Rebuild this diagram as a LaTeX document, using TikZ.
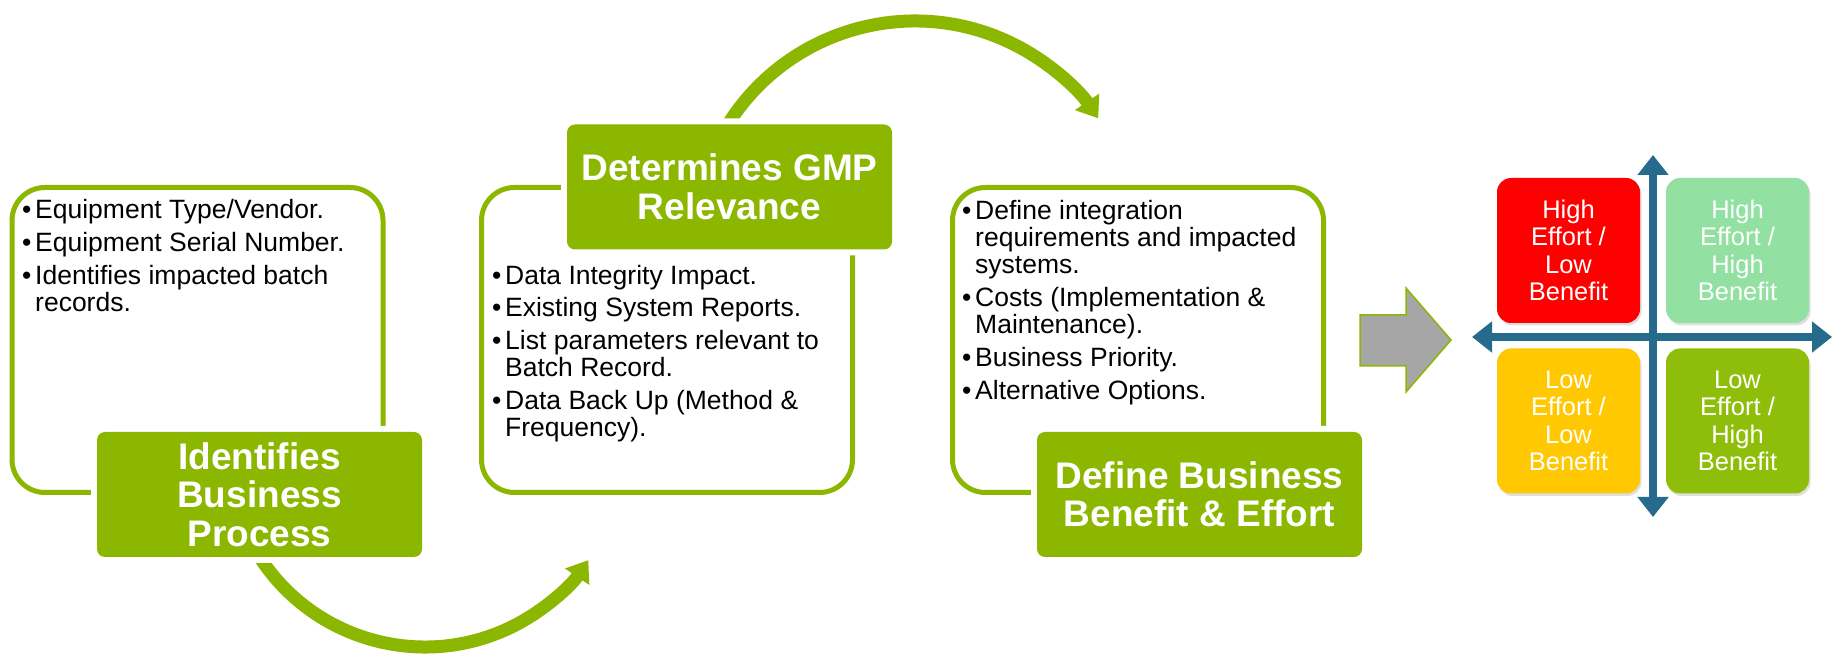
\documentclass[tikz,border=0pt]{standalone}
\usepackage{fontspec}
\setmainfont{Liberation Sans}
\usetikzlibrary{arrows.meta,shadows}
\definecolor{gmpgreen}{RGB}{140,183,0}
\definecolor{axisblue}{RGB}{38,106,140}
\definecolor{arrowgray}{RGB}{166,166,166}
\definecolor{qred}{RGB}{255,0,0}
\definecolor{qlight}{RGB}{146,224,162}
\definecolor{qyellow}{RGB}{255,200,0}
\definecolor{qgreen}{RGB}{143,190,10}
\begin{document}
\begin{tikzpicture}[x=1pt,y=1pt,
  outlinebox/.style={draw=gmpgreen, line width=5pt, rounded corners=33pt,
    minimum width=371pt, minimum height=305pt, inner sep=0pt},
  lblbox/.style={fill=gmpgreen, rounded corners=8pt,
    preaction={draw=white, line width=12pt},
    minimum width=325pt, minimum height=125pt, inner sep=0pt,
    text=white, align=center, font=\fontsize{37}{38.5}\selectfont\bfseries},
  bodytext/.style={anchor=base west, inner sep=0pt, font=\fontsize{26.5}{27}\selectfont},
  arcarrow/.style={draw=gmpgreen, line width=13pt, -{Triangle[width=28pt,length=20pt]}},
  quad/.style={rounded corners=14pt, minimum width=143pt, minimum height=145pt,
    inner sep=0pt, text=white, align=center,
    font=\fontsize{25.5}{27.3}\selectfont,
    drop shadow={opacity=0.25, shadow xshift=1.5pt, shadow yshift=-2.5pt}},
  axisarrow/.style={draw=axisblue, line width=8pt,
    {Triangle[width=30pt,length=20pt]}-{Triangle[width=30pt,length=20pt]}}
]
\newcommand{\bul}{\makebox[13pt][l]{•}}
\useasboundingbox (0,0) rectangle (1833,658);
\fill[white] (0,0) rectangle (1833,658);

% outline boxes
\node[outlinebox] (b1) at (197.5,318) {};
\node[outlinebox] (b2) at (667,318) {};
\node[outlinebox] (b3) at (1138,318) {};

% curved arrows
\coordinate (a1) at ([shift={(150:221)}]915,416);
\draw[arcarrow] (a1) arc[start angle=150, end angle=34, radius=221];
\coordinate (a2) at ([shift={(210:197)}]425,208);
\draw[arcarrow] (a2) arc[start angle=210, end angle=326, radius=197];

% label boxes
\node[lblbox] (l1) at (259.5,163.5) {Identifies\\Business\\Process};
\node[lblbox] (l2) at (729.5,471) {Determines GMP\\Relevance};
\node[lblbox] (l3) at (1199.5,163.5) {Define Business\\Benefit \& Effort};

% box 1 text
\node[bodytext] (t11) at (22,439) {\bul Equipment Type/Vendor.};
\node[bodytext] (t12) at (22,406) {\bul Equipment Serial Number.};
\node[bodytext] (t13) at (22,373) {\bul Identifies impacted batch};
\node[bodytext] (t14) at (35,346) {records.};

% box 2 text
\node[bodytext] (t21) at (492,373) {\bul Data Integrity Impact.};
\node[bodytext] (t22) at (492,341) {\bul Existing System Reports.};
\node[bodytext] (t23) at (492,308) {\bul List parameters relevant to};
\node[bodytext] (t24) at (505,281) {Batch Record.};
\node[bodytext] (t25) at (492,248) {\bul Data Back Up (Method \&};
\node[bodytext] (t26) at (505,221) {Frequency).};

% box 3 text
\node[bodytext] (t31) at (962,438) {\bul Define integration};
\node[bodytext] (t32) at (975,411) {requirements and impacted};
\node[bodytext] (t33) at (975,384) {systems.};
\node[bodytext] (t34) at (962,351) {\bul Costs (Implementation \&};
\node[bodytext] (t35) at (975,324) {Maintenance).};
\node[bodytext] (t36) at (962,291) {\bul Business Priority.};
\node[bodytext] (t37) at (962,258) {\bul Alternative Options.};

% gray arrow
\draw[fill=arrowgray, draw=gmpgreen, line width=1.5pt]
  (1360,343) -- (1406,343) -- (1406,370) -- (1451,318) -- (1406,266)
  -- (1406,292) -- (1360,292) -- cycle;

% quadrant
\node[quad, fill=qred] (q1) at (1568.5,407.5) {High\\Effort /\\Low\\Benefit};
\node[quad, fill=qlight] (q2) at (1737.5,407.5) {High\\Effort /\\High\\Benefit};
\node[quad, fill=qyellow] (q3) at (1568.5,237) {Low\\Effort /\\Low\\Benefit};
\node[quad, fill=qgreen] (q4) at (1737.5,237) {Low\\Effort /\\High\\Benefit};

\coordinate (vtop) at (1653,503);
\coordinate (vbot) at (1653,141);
\coordinate (hl) at (1472,321);
\coordinate (hr) at (1832,321);
\draw[axisarrow] (vbot) -- (vtop);
\draw[axisarrow] (hl) -- (hr);
\end{tikzpicture}
\end{document}
